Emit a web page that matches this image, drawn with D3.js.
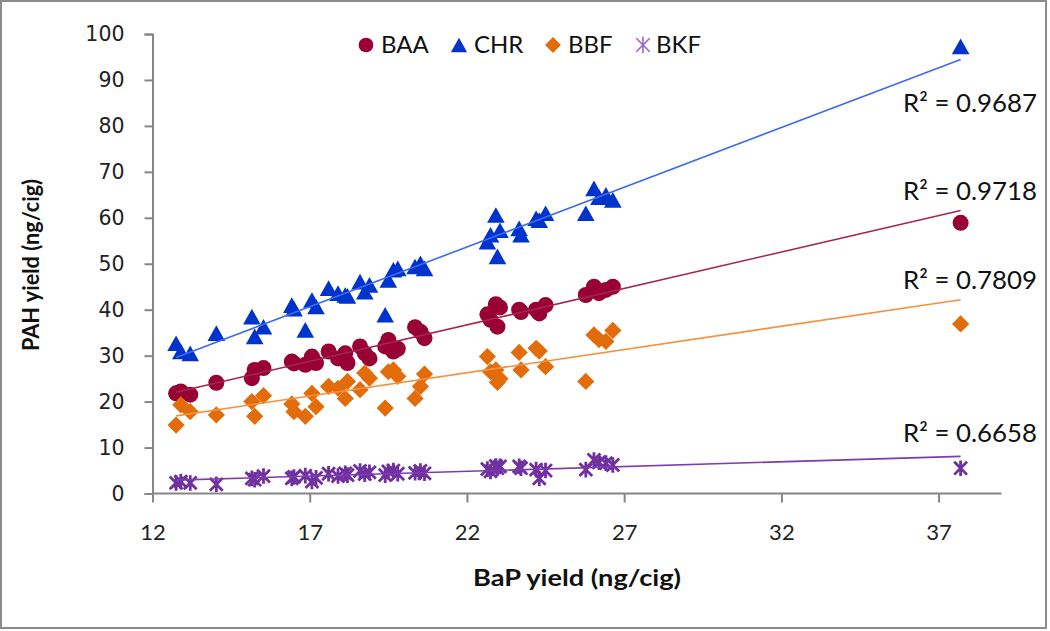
<!DOCTYPE html>
<html>
<head>
<meta charset="utf-8">
<script src="https://cdn.jsdelivr.net/npm/d3@7"></script>
<style>
  html, body { margin: 0; padding: 0; background: #fff; }
  svg { display: block; }
</style>
</head>
<body>
<svg id="chart" width="1050" height="631"></svg>
<script>
// ---------- data ----------
const bapYield = [12.75, 12.9, 13.2, 14.03, 15.16, 15.25, 15.53, 16.43, 16.5, 16.86,
  17.07, 17.2, 17.6, 17.9, 18.13, 18.2, 18.6, 18.75, 18.9, 19.4,
  19.5, 19.66, 19.8, 20.35, 20.52, 20.65, 22.65, 22.75, 22.92, 22.97,
  23.05, 23.66, 23.72, 24.2, 24.3, 24.5, 25.78, 26.04, 26.2, 26.42,
  26.64, 37.7];
const baa = [21.8, 22.2, 21.5, 24.1, 25.1, 26.9, 27.3, 28.7, 28.3, 28.0,
  29.8, 28.4, 30.9, 29.4, 30.5, 28.4, 32.0, 30.5, 29.4, 32.0,
  33.4, 30.9, 31.5, 36.2, 35.2, 33.8, 39.0, 37.8, 41.2, 36.3,
  40.5, 40.0, 39.5, 40.0, 39.2, 41.0, 43.2, 45.0, 43.6, 44.3,
  45.0, 58.9];
const chr = [32.7, 30.9, 30.5, 34.9, 38.5, 34.2, 36.3, 41.0, 40.2, 35.6,
  42.1, 40.7, 44.7, 43.6, 43.2, 43.0, 46.1, 43.9, 45.4, 38.9,
  46.5, 48.7, 49.0, 49.4, 50.1, 49.0, 54.8, 56.3, 60.6, 51.6,
  57.3, 57.7, 56.3, 59.9, 59.5, 61.0, 61.0, 66.4, 64.5, 65.0,
  63.9, 97.3];
const bbf = [14.9, 19.3, 17.8, 17.1, 20.0, 16.8, 21.3, 19.5, 17.8, 16.8,
  21.8, 18.9, 23.3, 22.9, 20.7, 24.4, 22.6, 26.2, 25.1, 18.6,
  26.5, 26.9, 25.5, 20.7, 23.3, 26.0, 29.8, 26.5, 26.9, 24.2,
  25.0, 30.7, 26.9, 31.6, 31.0, 27.6, 24.4, 34.5, 33.5, 33.1,
  35.5, 36.9];
const bkf = [2.3, 2.6, 2.3, 2.0, 3.3, 3.0, 3.8, 3.3, 3.6, 3.9,
  2.6, 3.4, 4.3, 3.8, 4.4, 4.0, 4.9, 4.2, 4.6, 4.0,
  4.8, 5.0, 4.3, 4.5, 4.9, 4.4, 5.3, 4.8, 6.0, 5.5,
  5.9, 5.9, 5.5, 5.2, 3.3, 5.0, 5.2, 7.3, 6.8, 6.6,
  6.2, 5.5];
const seriesNames = ["BAA", "CHR", "BBF", "BKF"];
const r2Labels = ["R\u00B2 = 0.9718", "R\u00B2 = 0.9687", "R\u00B2 = 0.7809", "R\u00B2 = 0.6658"];
const xTicks = [12, 17, 22, 27, 32, 37];
const yTicks = [0, 10, 20, 30, 40, 50, 60, 70, 80, 90, 100];
const xTitle = "BaP yield (ng/cig)";
const yTitle = "PAH yield (ng/cig)";

// ---------- styles ----------
const styles = [
  { vals: baa, shape: "circle",   fill: "#990033", line: "#A3264F", labelDy: -19 },
  { vals: chr, shape: "triangle", fill: "#0033CC", line: "#3D6BF0", labelDy: 43 },
  { vals: bbf, shape: "diamond",  fill: "#E36C0A", line: "#F5913E", labelDy: -20 },
  { vals: bkf, shape: "star",     fill: "#7030A0", line: "#7D3BB0", labelDy: -23 }
];

const svg = d3.select("#chart");
const m = { left: 152.5, right: 1001.5, top: 34, bottom: 493.5 };
const x = d3.scaleLinear().domain([12, 39]).range([m.left, m.right]);
const y = d3.scaleLinear().domain([0, 100]).range([m.bottom, m.top]);

// outer border
svg.append("rect").attr("x", 1).attr("y", 1).attr("width", 1045).attr("height", 627)
  .attr("fill", "#fff").attr("stroke", "#8c8c8c").attr("stroke-width", 2);

const axisColor = "#868686";

// y axis
const yAxis = svg.append("g").attr("transform", `translate(${m.left},0)`)
  .call(d3.axisLeft(y).tickValues(yTicks).tickSize(8).tickPadding(20).tickFormat(d3.format("d")));
yAxis.select(".domain").attr("stroke", axisColor).attr("stroke-width", 2);
yAxis.selectAll(".tick line").attr("stroke", axisColor).attr("stroke-width", 2);
yAxis.selectAll(".tick text").attr("font-family", "DejaVu Sans").attr("font-size", 20.5)
  .attr("fill", "#222");

// x axis
const xAxis = svg.append("g").attr("transform", `translate(0,${m.bottom})`)
  .call(d3.axisBottom(x).tickValues(xTicks).tickSize(9).tickPadding(22).tickFormat(d3.format("d")));
xAxis.select(".domain").attr("stroke", axisColor).attr("stroke-width", 2)
  .attr("d", `M${m.left},0H${m.right}`);
xAxis.selectAll(".tick text").attr("font-family", "Lato").attr("font-size", 22)
  .attr("fill", "#222");
xAxis.selectAll(".tick line").attr("stroke", axisColor).attr("stroke-width", 2);

// axis titles
svg.append("text").attr("x", 577).attr("y", 586).attr("text-anchor", "middle")
  .attr("font-family", "Lato").attr("font-weight", "bold").attr("font-size", 23)
  .attr("fill", "#111").attr("textLength", 208).attr("lengthAdjust", "spacingAndGlyphs")
  .text(xTitle);
svg.append("text").attr("transform", "translate(39,265) rotate(-90)").attr("text-anchor", "middle")
  .attr("font-family", "Lato").attr("font-weight", "bold").attr("font-size", 23)
  .attr("fill", "#111").attr("textLength", 172).attr("lengthAdjust", "spacingAndGlyphs")
  .text(yTitle);

// marker drawing
function drawMarker(g, shape, color, s, thin) {
  if (shape === "circle") {
    g.append("circle").attr("r", 8 * s).attr("fill", color);
  } else if (shape === "triangle") {
    const w = 8.8 * s, h = 7.8 * s;
    g.append("path").attr("d", `M0,${-h}L${w},${h}L${-w},${h}Z`).attr("fill", color);
  } else if (shape === "diamond") {
    const r = 8.6 * s;
    g.append("path").attr("d", `M0,${-r}L${r},0L0,${r}L${-r},0Z`).attr("fill", color);
  } else {
    const r = 7.8 * s, d = 6.4 * s;
    g.append("path").attr("d", `M0,${-r}V${r}M${-d},${-d}L${d},${d}M${-d},${d}L${d},${-d}`)
      .attr("stroke", color).attr("stroke-width", thin ? 1.6 : 2.8).attr("fill", "none");
  }
}

// regression
function fit(xs, ys) {
  const mx = d3.mean(xs), my = d3.mean(ys);
  let sxy = 0, sxx = 0;
  xs.forEach((xv, i) => { sxy += (xv - mx) * (ys[i] - my); sxx += (xv - mx) * (xv - mx); });
  const b = sxy / sxx;
  return { b, a: my - b * mx };
}

const plot = svg.append("g");
styles.forEach(st => {
  const g = plot.append("g");
  bapYield.forEach((xv, i) => {
    const mg = g.append("g").attr("transform", `translate(${x(xv)},${y(st.vals[i])})`);
    drawMarker(mg, st.shape, st.fill, 1, false);
  });
});

const xmin = d3.min(bapYield), xmax = d3.max(bapYield);
styles.forEach((st, k) => {
  const f = fit(bapYield, st.vals);
  const pts = [[xmin, f.a + f.b * xmin], [xmax, f.a + f.b * xmax]];
  plot.append("path")
    .attr("d", d3.line().x(d => x(d[0])).y(d => y(d[1]))(pts))
    .attr("stroke", st.line).attr("stroke-width", 1.6).attr("fill", "none");
  const endY = y(pts[1][1]);
  svg.append("text").attr("x", 1037).attr("y", endY + st.labelDy + 9)
    .attr("text-anchor", "end").attr("font-family", "Lato").attr("font-size", 25).attr("fill", "#111")
    .attr("textLength", 134).attr("lengthAdjust", "spacingAndGlyphs")
    .text(r2Labels[k]);
});

// legend
const legendPos = [
  { mx: 366, tx: 381 },
  { mx: 459, tx: 474 },
  { mx: 553, tx: 568 },
  { mx: 643, tx: 656 }
];
seriesNames.forEach((name, k) => {
  const st = styles[k];
  const g = svg.append("g").attr("transform", `translate(${legendPos[k].mx},45)`);
  drawMarker(g, st.shape, k === 3 ? "#9966CC" : st.fill, k === 3 ? 1.05 : 0.92, true);
  svg.append("text").attr("x", legendPos[k].tx).attr("y", 53)
    .attr("font-family", "Lato").attr("font-size", 24).attr("fill", "#111").text(name);
});
</script>
</body>
</html>
